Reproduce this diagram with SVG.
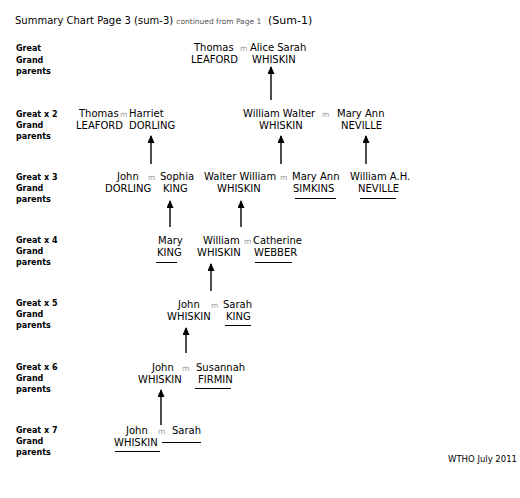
<svg xmlns="http://www.w3.org/2000/svg" width="520" height="498" viewBox="0 0 520 498">
<style>
text{font-family:"DejaVu Sans","Verdana",sans-serif;fill:#000}
.n{font-size:10px}
.m{font-size:7.5px;fill:#999}
.lab{font-size:8px;font-weight:bold}
.title{font-size:10px}
.small{font-size:7.5px;fill:#555}
.big{font-size:11px}
.foot{font-size:8.5px}
.ul{stroke:#000;stroke-width:1}
.arr{stroke:#000;stroke-width:1.4;fill:none;marker-end:url(#ah)}
</style>
<defs>
<marker id="ah" markerUnits="userSpaceOnUse" markerWidth="8" markerHeight="7" refX="7" refY="3.5" orient="auto" viewBox="0 0 8 7">
<path d="M0,0 L8,3.5 L0,7 Z" fill="#000"/>
</marker>
</defs>
<rect width="520" height="498" fill="#fff"/>
<g id="title">
<text x="15" y="24" class="title">Summary Chart Page 3 (sum-3) <tspan class="small">continued from Page 1</tspan><tspan x="268" class="big">(Sum-1)</tspan></text>
</g>
<g id="labels">
<text class="lab" x="16" y="51">Great</text><text class="lab" x="16" y="63">Grand</text><text class="lab" x="16" y="74">parents</text>
<text class="lab" x="16" y="117">Great x 2</text><text class="lab" x="16" y="128">Grand</text><text class="lab" x="16" y="139">parents</text>
<text class="lab" x="16" y="180">Great x 3</text><text class="lab" x="16" y="191">Grand</text><text class="lab" x="16" y="202">parents</text>
<text class="lab" x="16" y="243">Great x 4</text><text class="lab" x="16" y="254">Grand</text><text class="lab" x="16" y="265">parents</text>
<text class="lab" x="16" y="306">Great x 5</text><text class="lab" x="16" y="317">Grand</text><text class="lab" x="16" y="328">parents</text>
<text class="lab" x="16" y="370">Great x 6</text><text class="lab" x="16" y="381">Grand</text><text class="lab" x="16" y="392">parents</text>
<text class="lab" x="16" y="433">Great x 7</text><text class="lab" x="16" y="444">Grand</text><text class="lab" x="16" y="455">parents</text>
</g>
<g id="thomas-leaford-1"><text class="n" x="194" y="51">Thomas</text><text class="n" x="191" y="63">LEAFORD</text></g>
<text class="m" x="240" y="51">m</text>
<g id="alice-whiskin"><text class="n" x="250" y="51">Alice Sarah</text><text class="n" x="252" y="63">WHISKIN</text></g>

<g id="thomas-leaford-2"><text class="n" x="79" y="117">Thomas</text><text class="n" x="76" y="129">LEAFORD</text></g>
<text class="m" x="120" y="117">m</text>
<g id="harriet-dorling"><text class="n" x="129" y="117">Harriet</text><text class="n" x="129" y="129">DORLING</text></g>
<g id="william-walter-whiskin"><text class="n" x="243" y="117">William Walter</text><text class="n" x="259" y="129">WHISKIN</text></g>
<text class="m" x="322" y="117">m</text>
<g id="mary-ann-neville"><text class="n" x="337" y="117">Mary Ann</text><text class="n" x="341" y="129">NEVILLE</text></g>

<g id="john-dorling"><text class="n" x="117" y="180">John</text><text class="n" x="105" y="192">DORLING</text></g>
<text class="m" x="148" y="180">m</text>
<g id="sophia-king"><text class="n" x="160" y="180">Sophia</text><text class="n" x="163" y="192">KING</text></g>
<g id="walter-william-whiskin"><text class="n" x="204" y="180">Walter William</text><text class="n" x="217" y="192">WHISKIN</text></g>
<text class="m" x="280" y="180">m</text>
<g id="mary-ann-simkins"><text class="n" x="292" y="180">Mary Ann</text><text class="n" x="293" y="192">SIMKINS</text><line class="ul" x1="295" y1="198.5" x2="336" y2="198.5"/></g>
<g id="william-ah-neville"><text class="n" x="350" y="180">William A.H.</text><text class="n" x="358" y="192">NEVILLE</text><line class="ul" x1="360" y1="198.5" x2="396" y2="198.5"/></g>

<g id="mary-king"><text class="n" x="158" y="244">Mary</text><text class="n" x="157" y="256">KING</text><line class="ul" x1="156" y1="262.5" x2="177" y2="262.5"/></g>
<g id="william-whiskin"><text class="n" x="203" y="244">William</text><text class="n" x="197" y="256">WHISKIN</text></g>
<text class="m" x="244" y="244">m</text>
<g id="catherine-webber"><text class="n" x="253" y="244">Catherine</text><text class="n" x="254" y="256">WEBBER</text><line class="ul" x1="255" y1="262.5" x2="292" y2="262.5"/></g>

<g id="john-whiskin-5"><text class="n" x="178" y="308">John</text><text class="n" x="167" y="320">WHISKIN</text></g>
<text class="m" x="211" y="308">m</text>
<g id="sarah-king"><text class="n" x="223" y="308">Sarah</text><text class="n" x="226" y="320">KING</text><line class="ul" x1="225" y1="325.5" x2="251" y2="325.5"/></g>

<g id="john-whiskin-6"><text class="n" x="152" y="371">John</text><text class="n" x="138" y="383">WHISKIN</text></g>
<text class="m" x="182" y="371">m</text>
<g id="susannah-firmin"><text class="n" x="196" y="371">Susannah</text><text class="n" x="198" y="383">FIRMIN</text><line class="ul" x1="195" y1="388.5" x2="231" y2="388.5"/></g>

<g id="john-whiskin-7"><text class="n" x="126" y="434">John</text><text class="n" x="114" y="446">WHISKIN</text><line class="ul" x1="115" y1="451.5" x2="160" y2="451.5"/></g>
<text class="m" x="158" y="434">m</text>
<g id="sarah-7"><text class="n" x="172" y="434">Sarah</text><line class="ul" x1="162" y1="442.5" x2="201" y2="442.5"/></g>

<g id="connectors">
<line class="arr" x1="271" y1="100" x2="271" y2="67"/>
<line class="arr" x1="151" y1="164" x2="151" y2="136"/>
<line class="arr" x1="281" y1="164" x2="281" y2="136"/>
<line class="arr" x1="366" y1="164" x2="366" y2="136"/>
<line class="arr" x1="170" y1="227" x2="170" y2="201"/>
<line class="arr" x1="241" y1="227" x2="241" y2="201"/>
<line class="arr" x1="211" y1="291" x2="211" y2="264"/>
<line class="arr" x1="186" y1="353" x2="186" y2="328"/>
<line class="arr" x1="161" y1="425" x2="161" y2="390"/>
</g>
<g id="footer"><text class="foot" x="448" y="462">WTHO July 2011</text></g>
</svg>
